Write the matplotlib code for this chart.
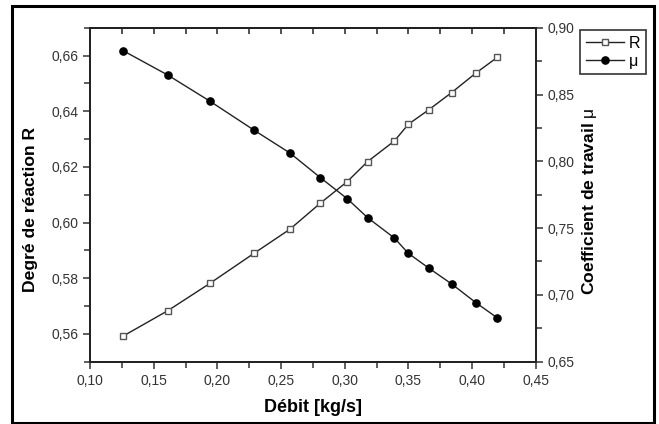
import matplotlib
matplotlib.use("Agg")
import matplotlib.pyplot as plt
from matplotlib.ticker import MultipleLocator, FuncFormatter
from matplotlib.patches import Rectangle

plt.rcParams['font.family'] = ['Liberation Sans', 'DejaVu Sans']
plt.rcParams['mathtext.fontset'] = 'custom'
plt.rcParams['mathtext.rm'] = 'Liberation Sans'

debit = [0.126, 0.161, 0.194, 0.229, 0.257, 0.281, 0.302, 0.318, 0.339, 0.350, 0.366, 0.384, 0.403, 0.420]
R_vals = [0.5592, 0.5683, 0.5781, 0.5890, 0.5976, 0.6070, 0.6147, 0.6219, 0.6293, 0.6353, 0.6405, 0.6467, 0.6537, 0.6594]
mu_vals = [0.8828, 0.8646, 0.8451, 0.8232, 0.8062, 0.7877, 0.7720, 0.7578, 0.7426, 0.7311, 0.7201, 0.7082, 0.6942, 0.6827]

W, H = 659, 424
fig = plt.figure(figsize=(W/100, H/100), dpi=100)
fig.patches.append(Rectangle((12/W, 1 - 423/H), (654-12)/W, (423-5.5)/H, transform=fig.transFigure,
                             fill=False, edgecolor='black', linewidth=2.2))

ax = fig.add_axes([90/W, 1 - 361.7/H, (535.7-90)/W, (361.7-27.7)/H])
ax2 = ax.twinx()

lc = '#222222'
l1, = ax.plot(debit, R_vals, color=lc, lw=1.0, marker='s', markersize=4.6,
              markerfacecolor='white', markeredgecolor='#555555', markeredgewidth=1.0, label='R')
l2, = ax2.plot(debit, mu_vals, color=lc, lw=1.0, marker='o', markersize=5.2,
               markerfacecolor='black', markeredgecolor='black', label='μ')

ax.set_xlim(0.10, 0.45)
ax.set_ylim(0.55, 0.67)
ax2.set_ylim(0.65, 0.90)

comma = lambda d: FuncFormatter(lambda v, p: f"{v:.{d}f}".replace('.', ','))
ax.xaxis.set_major_locator(MultipleLocator(0.05))
ax.xaxis.set_minor_locator(MultipleLocator(0.025))
ax.yaxis.set_major_locator(MultipleLocator(0.02))
ax.yaxis.set_minor_locator(MultipleLocator(0.01))
ax2.yaxis.set_major_locator(MultipleLocator(0.05))
ax2.yaxis.set_minor_locator(MultipleLocator(0.025))
ax.xaxis.set_major_formatter(comma(2))
ax.yaxis.set_major_formatter(comma(2))
ax2.yaxis.set_major_formatter(comma(2))

for a in (ax, ax2):
    for s in a.spines.values():
        s.set_linewidth(1.3)
        s.set_color('#222222')

ax.tick_params(axis='x', which='both', direction='out', bottom=True, top=False, labelsize=10, colors='#333333', width=1.1)
ax.tick_params(axis='x', which='major', length=5)
ax.tick_params(axis='x', which='minor', length=4)
ax.tick_params(axis='y', which='both', direction='out', left=True, labelsize=10, colors='#333333', width=1.1)
ax.tick_params(axis='y', which='major', length=5)
ax.tick_params(axis='y', which='minor', length=4)
ax2.tick_params(axis='y', which='both', direction='out', labelsize=10, colors='#333333', width=1.1)
ax2.tick_params(axis='y', which='major', length=5)
ax2.tick_params(axis='y', which='minor', length=4)

# top axis inward ticks
sec = ax.secondary_xaxis('top')
sec.xaxis.set_major_locator(MultipleLocator(0.05))
sec.xaxis.set_minor_locator(MultipleLocator(0.025))
sec.tick_params(axis='x', which='both', direction='in', length=4, width=1.1, labeltop=False, colors='#222222')
sec.spines['top'].set_linewidth(1.3)

ax.set_xlabel('Débit [kg/s]', fontsize=13, fontweight='bold', labelpad=8)
ax.set_ylabel('Degré de réaction R', fontsize=12.6, fontweight='bold')
ax.yaxis.set_label_coords(-0.117, 0.457)
ax2.set_ylabel('Coefficient de travail ' + r'$\mathrm{\mu}$', fontsize=12.6, fontweight='bold')
ax2.yaxis.set_label_coords(1.099, 0.481)

leg = fig.legend(handles=[l1, l2], labels=['R', 'μ'], loc='upper left',
                 bbox_to_anchor=(580/W, 1 - 30/H), fontsize=11.5, frameon=True, fancybox=False,
                 edgecolor='black', handlelength=2.4, handletextpad=0.3, borderpad=0.35,
                 labelspacing=0.2, borderaxespad=0)
leg.get_frame().set_linewidth(1.2)

fig.savefig('out.png', dpi=100)
